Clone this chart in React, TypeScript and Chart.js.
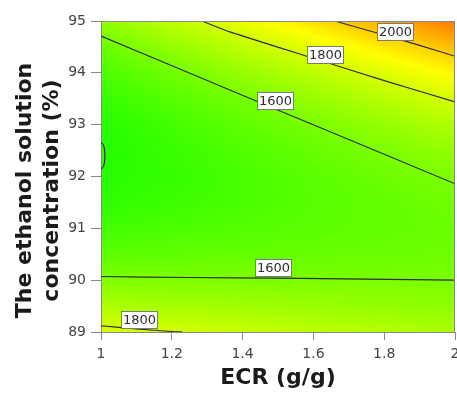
import React, { useEffect, useRef } from 'react';
import { Chart, registerables } from 'chart.js';

Chart.register(...registerables);

// ---- data ----
const ecrLevels = [1, 1.2, 1.4, 1.6, 1.8, 2];
const ethanolLevels = [89, 89.5, 90, 90.5, 91, 91.5, 92, 92.5, 93, 93.5, 94, 94.5, 95];
// response surface estimates: one row per ethanol level, one column per ECR level
const responseGrid = [
  [1827, 1802, 1777, 1753, 1729, 1705],
  [1710, 1696, 1683, 1669, 1656, 1643],
  [1613, 1610, 1607, 1604, 1602, 1600],
  [1533, 1541, 1549, 1557, 1566, 1575],
  [1472, 1491, 1510, 1529, 1548, 1568],
  [1430, 1459, 1489, 1519, 1549, 1580],
  [1406, 1446, 1487, 1528, 1569, 1610],
  [1400, 1452, 1503, 1555, 1607, 1659],
  [1413, 1475, 1538, 1600, 1663, 1726],
  [1445, 1518, 1591, 1664, 1738, 1812],
  [1494, 1578, 1662, 1746, 1831, 1916],
  [1563, 1657, 1752, 1847, 1943, 2038],
  [1649, 1755, 1860, 1966, 2073, 2179],
];

const contour1600Upper = [
  { x: 1, y: 94.71 }, { x: 1.364, y: 93.67 }, { x: 1.627, y: 92.92 }, { x: 2, y: 91.86 },
];
const contour1800Upper = [
  { x: 1.285, y: 95 }, { x: 1.364, y: 94.79 }, { x: 1.6, y: 94.28 }, { x: 1.8, y: 93.85 }, { x: 2, y: 93.44 },
];
const contour2000 = [
  { x: 1.66, y: 95 }, { x: 1.8, y: 94.73 }, { x: 1.9, y: 94.53 }, { x: 2, y: 94.32 },
];
const contour1600Lower = [
  { x: 1, y: 90.07 }, { x: 1.25, y: 90.05 }, { x: 1.5, y: 90.04 }, { x: 1.75, y: 90.02 }, { x: 2, y: 90.0 },
];
const contour1800Lower = [
  { x: 1, y: 89.12 }, { x: 1.1, y: 89.06 }, { x: 1.2, y: 89.01 }, { x: 1.23, y: 89 },
];
const contour1400 = [
  { x: 1, y: 92.66 }, { x: 1.007, y: 92.6 }, { x: 1.0101, y: 92.5 }, { x: 1.011, y: 92.4 },
  { x: 1.0101, y: 92.3 }, { x: 1.007, y: 92.2 }, { x: 1, y: 92.14 },
];

const contourLabels = ['2000', '1800', '1600', '1600', '1800'];
const labelEcr = [1.833, 1.633, 1.494, 1.487, 1.109];
const labelEthanol = [94.79, 94.35, 93.45, 90.24, 89.24];

const xTickValues = [1, 1.2, 1.4, 1.6, 1.8, 2];
const xTickLabels = ['1', '1.2', '1.4', '1.6', '1.8', '2'];
const yTickValues = [89, 90, 91, 92, 93, 94, 95];
const yTickLabels = ['89', '90', '91', '92', '93', '94', '95'];

const xTitle = 'ECR (g/g)';
const yTitleLines = ['The ethanol solution', 'concentration (%)'];

// ---- styles ----
const FONT = 'DejaVu Sans';
const colorStops: [number, number[]][] = [
  [1400, [34, 255, 0]],
  [1500, [78, 255, 0]],
  [1600, [122, 255, 0]],
  [1700, [167, 255, 0]],
  [1800, [211, 255, 0]],
  [1900, [255, 255, 0]],
  [2000, [255, 207, 0]],
  [2100, [255, 158, 0]],
  [2200, [255, 110, 0]],
];

function locate(levels: number[], v: number): [number, number] {
  if (v <= levels[0]) return [0, 0];
  const n = levels.length - 1;
  if (v >= levels[n]) return [n - 1, 1];
  for (let i = 0; i < n; i++) {
    if (v <= levels[i + 1]) return [i, (v - levels[i]) / (levels[i + 1] - levels[i])];
  }
  return [n - 1, 1];
}

function sampleGrid(xv: number, yv: number): number {
  const [i, tx] = locate(ecrLevels, xv);
  const [j, ty] = locate(ethanolLevels, yv);
  const a = responseGrid[j][i], b = responseGrid[j][i + 1];
  const c = responseGrid[j + 1][i], d = responseGrid[j + 1][i + 1];
  return (a * (1 - tx) + b * tx) * (1 - ty) + (c * (1 - tx) + d * tx) * ty;
}

function colorFor(v: number): number[] {
  if (v <= colorStops[0][0]) return colorStops[0][1];
  for (let k = 0; k < colorStops.length - 1; k++) {
    const [v0, c0] = colorStops[k];
    const [v1, c1] = colorStops[k + 1];
    if (v <= v1) {
      const t = (v - v0) / (v1 - v0);
      return [c0[0] + (c1[0] - c0[0]) * t, c0[1] + (c1[1] - c0[1]) * t, c0[2] + (c1[2] - c0[2]) * t];
    }
  }
  return colorStops[colorStops.length - 1][1];
}

const heatmapPlugin = {
  id: 'heatmap',
  beforeDraw(chart: any) {
    const { ctx, chartArea, scales } = chart;
    ctx.save();
    ctx.fillStyle = '#ffffff';
    ctx.fillRect(0, 0, chart.width, chart.height);
    ctx.restore();
    const xs = scales.x, ys = scales.y;
    const left = Math.round(chartArea.left), top = Math.round(chartArea.top);
    const w = Math.round(chartArea.right) - left;
    const h = Math.round(chartArea.bottom) - top;
    const off = document.createElement('canvas');
    off.width = w; off.height = h;
    const octx = off.getContext('2d')!;
    const img = octx.createImageData(w, h);
    for (let j = 0; j < h; j++) {
      const yv = ys.getValueForPixel(top + j + 0.5);
      for (let i = 0; i < w; i++) {
        const xv = xs.getValueForPixel(left + i + 0.5);
        const c = colorFor(sampleGrid(xv, yv));
        const p = (j * w + i) * 4;
        img.data[p] = c[0]; img.data[p + 1] = c[1]; img.data[p + 2] = c[2]; img.data[p + 3] = 255;
      }
    }
    octx.putImageData(img, 0, 0);
    ctx.drawImage(off, left, top);
  },
};

const framePlugin = {
  id: 'frame',
  afterDatasetsDraw(chart: any) {
    const { ctx, chartArea } = chart;
    ctx.save();
    ctx.strokeStyle = '#888888';
    ctx.lineWidth = 1;
    ctx.beginPath();
    ctx.moveTo(chartArea.left, Math.round(chartArea.top) + 0.5);
    ctx.lineTo(chartArea.right, Math.round(chartArea.top) + 0.5);
    ctx.moveTo(Math.round(chartArea.right) - 0.5, chartArea.top);
    ctx.lineTo(Math.round(chartArea.right) - 0.5, chartArea.bottom + 1);
    ctx.stroke();
    ctx.restore();
  },
};

const labelPlugin = {
  id: 'contourLabels',
  afterDatasetsDraw(chart: any) {
    const { ctx, scales } = chart;
    ctx.save();
    ctx.font = `13px "${FONT}"`;
    ctx.textAlign = 'center';
    ctx.textBaseline = 'middle';
    contourLabels.forEach((txt, k) => {
      const px = scales.x.getPixelForValue(labelEcr[k]);
      const py = scales.y.getPixelForValue(labelEthanol[k]);
      const tw = ctx.measureText(txt).width;
      const bw = Math.round(tw + 4), bh = 18;
      const bx = Math.round(px - bw / 2), by = Math.round(py - bh / 2);
      ctx.fillStyle = '#ffffff';
      ctx.fillRect(bx, by, bw, bh);
      ctx.strokeStyle = '#7a7a7a';
      ctx.lineWidth = 1;
      ctx.strokeRect(bx + 0.5, by + 0.5, bw - 1, bh - 1);
      ctx.fillStyle = '#2e2e2e';
      ctx.fillText(txt, bx + bw / 2, by + bh / 2 + 0.5);
    });
    ctx.restore();
  },
};

const yTitlePlugin = {
  id: 'yTitle',
  afterDraw(chart: any) {
    const { ctx, chartArea } = chart;
    ctx.save();
    ctx.font = `bold 22px "${FONT}"`;
    ctx.fillStyle = '#1a1a1a';
    ctx.textAlign = 'center';
    ctx.textBaseline = 'middle';
    ctx.translate(25.5, (chartArea.top + chartArea.bottom) / 2 + 14);
    ctx.rotate(-Math.PI / 2);
    yTitleLines.forEach((line, k) => ctx.fillText(line, 0, k * 26.4));
    ctx.restore();
  },
};

function lineDataset(points: { x: number; y: number }[], tension: number) {
  return {
    data: points,
    showLine: true,
    borderColor: '#2b2b2b',
    borderWidth: 1.1,
    pointRadius: 0,
    tension,
    fill: false,
  };
}

export default function App() {
  const canvasRef = useRef<HTMLCanvasElement | null>(null);

  useEffect(() => {
    document.body.style.margin = '0';
    const canvas = canvasRef.current!;
    const chart = new Chart(canvas, {
      type: 'scatter',
      data: {
        datasets: [
          lineDataset(contour1600Upper, 0.2),
          lineDataset(contour1800Upper, 0.2),
          lineDataset(contour2000, 0.2),
          lineDataset(contour1600Lower, 0.2),
          lineDataset(contour1800Lower, 0.2),
          lineDataset(contour1400, 0.4),
        ] as any,
      },
      options: {
        responsive: false,
        animation: false,
        devicePixelRatio: 1,
        layout: { padding: { top: 21, right: 2, left: 0, bottom: 0 } },
        plugins: { legend: { display: false }, tooltip: { enabled: false } },
        scales: {
          x: {
            type: 'linear',
            min: 1,
            max: 2,
            afterBuildTicks: (s: any) => { s.ticks = xTickValues.map((v) => ({ value: v })); },
            ticks: {
              callback: (value: any) => {
                const k = xTickValues.findIndex((t) => Math.abs(t - Number(value)) < 1e-6);
                return k >= 0 ? xTickLabels[k] : '';
              },
              font: { family: FONT, size: 14 },
              color: '#444444',
              padding: 6,
              maxRotation: 0,
              autoSkip: false,
            },
            grid: { drawOnChartArea: false, drawTicks: true, tickLength: 8, color: '#888888' },
            border: { display: true, color: '#888888', width: 1 },
            title: {
              display: true,
              text: xTitle,
              font: { family: FONT, size: 22, weight: 'bold' },
              color: '#1a1a1a',
              padding: { top: 0, bottom: 2 },
            },
            afterFit: (s: any) => { s.height = 61; s.paddingLeft = 0; s.paddingRight = 0; },
          },
          y: {
            type: 'linear',
            min: 89,
            max: 95,
            afterBuildTicks: (s: any) => { s.ticks = yTickValues.map((v) => ({ value: v })); },
            ticks: {
              callback: (value: any) => {
                const k = yTickValues.findIndex((t) => Math.abs(t - Number(value)) < 1e-6);
                return k >= 0 ? yTickLabels[k] : '';
              },
              font: { family: FONT, size: 14 },
              color: '#444444',
              padding: 5,
              autoSkip: false,
            },
            grid: { drawOnChartArea: false, drawTicks: true, tickLength: 10, color: '#888888' },
            border: { display: true, color: '#888888', width: 1 },
            afterFit: (s: any) => { s.width = 101; s.paddingTop = 0; s.paddingBottom = 0; },
          },
        },
      } as any,
      plugins: [heatmapPlugin, framePlugin, labelPlugin, yTitlePlugin],
    });
    return () => chart.destroy();
  }, []);

  return <canvas ref={canvasRef} width={457} height={393} style={{ display: 'block' }} />;
}
